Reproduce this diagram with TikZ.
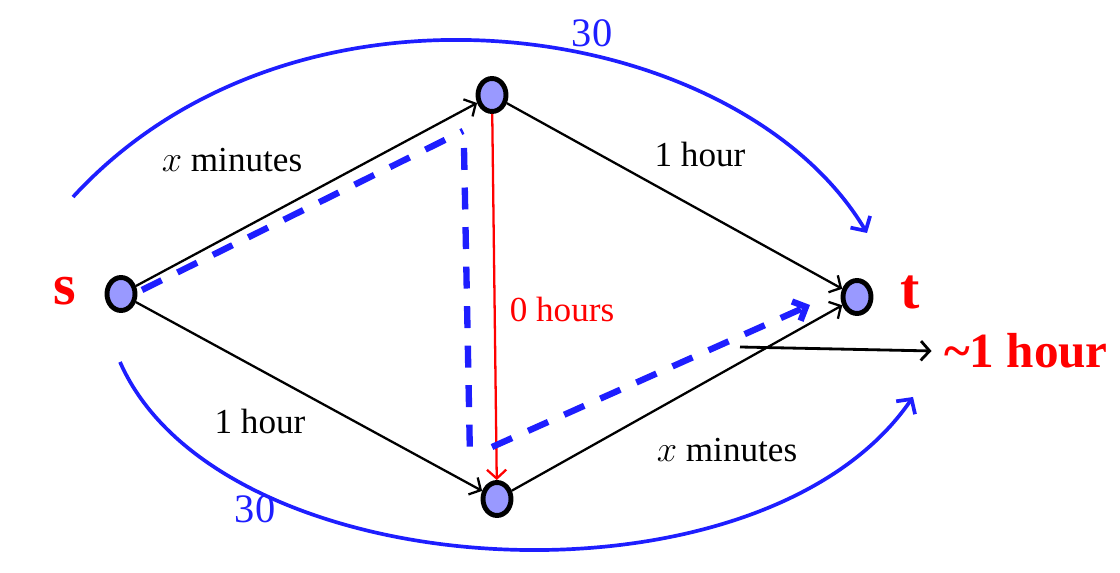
\documentclass[tikz,border=0pt]{standalone}
\usepackage{fontspec}
\setmainfont{Liberation Serif}
\usepackage{tikz}
\usetikzlibrary{shapes.geometric,arrows.meta}
\definecolor{vtxfill}{RGB}{153,153,255}
\definecolor{flowblue}{RGB}{30,30,255}

\begin{document}
\begin{tikzpicture}[x=0.02cm,y=-0.02cm,
	vertex/.style={ellipse,draw,fill=vtxfill,line width=2.8pt,minimum width=0.56cm,minimum height=0.66cm,inner sep=0pt},
	edge/.style={line width=1.3pt,-{Straight Barb[length=5pt,width=11pt]}},
	lbl/.style={anchor=base,inner sep=0pt,font=\fontsize{20}{24}\selectfont},
	thirty/.style={anchor=base,inner sep=0pt,text=flowblue,font=\fontsize{23}{27}\selectfont},
	endlbl/.style={anchor=base,inner sep=0pt,text=red,font=\fontsize{33}{38}\selectfont\bfseries},
	hourlbl/.style={anchor=base,inner sep=0pt,text=red,font=\fontsize{28}{32}\selectfont\bfseries},
	flowcurve/.style={flowblue,line width=2.1pt,-{Straight Barb[length=6pt,width=13pt]}},
	flowpath/.style={flowblue,line width=3.6pt,dash pattern=on 12.5pt off 10pt},
	]
	\useasboundingbox (0,0) rectangle (1120,573);

	\node[vertex] (s) at (121,294) {};
	\node[vertex] (u) at (492,95) {};
	\node[vertex] (v) at (497,499) {};
	\node[vertex] (t) at (857,297) {};

	\draw[edge] (s) -- (u);
	\draw[edge] (s) -- (v);
	\draw[edge] (u) -- (t);
	\draw[edge] (v) -- (t);
	\draw[edge,red] (u) -- (v);

	\node[lbl] (su) at (232,172) {$x$ minutes};
	\node[lbl] (ut) at (700,167) {1 hour};
	\node[lbl,text=red] (uv) at (562,322) {0 hours};
	\node[lbl] (sv) at (260,434) {1 hour};
	\node[lbl] (vt) at (727,462) {$x$ minutes};
	\node[endlbl] (slbl) at (65,305) {s};
	\node[endlbl] (tlbl) at (910,309) {t};
	\node[hourlbl] (onehour) at (1026,368) {\textasciitilde1 hour};
	\node[thirty] (upper) at (592,47) {30};
	\node[thirty] (lower) at (255,523) {30};

	\coordinate (ua) at (73,197);
	\coordinate (ub) at (867,233);
	\coordinate (la) at (120,362);
	\coordinate (lb) at (913,397);
	\draw[flowcurve] (ua) .. controls (300,-50) and (740,20) .. (ub);
	\draw[flowcurve] (la) .. controls (220,590) and (760,620) .. (lb);

	\coordinate (d1) at (142,290);
	\coordinate (d2) at (463,131);
	\coordinate (d3) at (464,148);
	\coordinate (d4) at (470,458);
	\coordinate (d5) at (492,447);
	\coordinate (d6) at (810,305);
	\draw[flowpath] (d1) -- (d2);
	\draw[flowpath] (d3) -- (d4);
	\draw[flowpath,-{Straight Barb[length=6pt,width=12pt]}] (d5) -- (d6);

	\coordinate (h0) at (740,347);
	\draw[line width=1.6pt,-{Straight Barb[length=5pt,width=11pt]},shorten >=7pt] (h0) -- (onehour.west);
\end{tikzpicture}
\end{document}
